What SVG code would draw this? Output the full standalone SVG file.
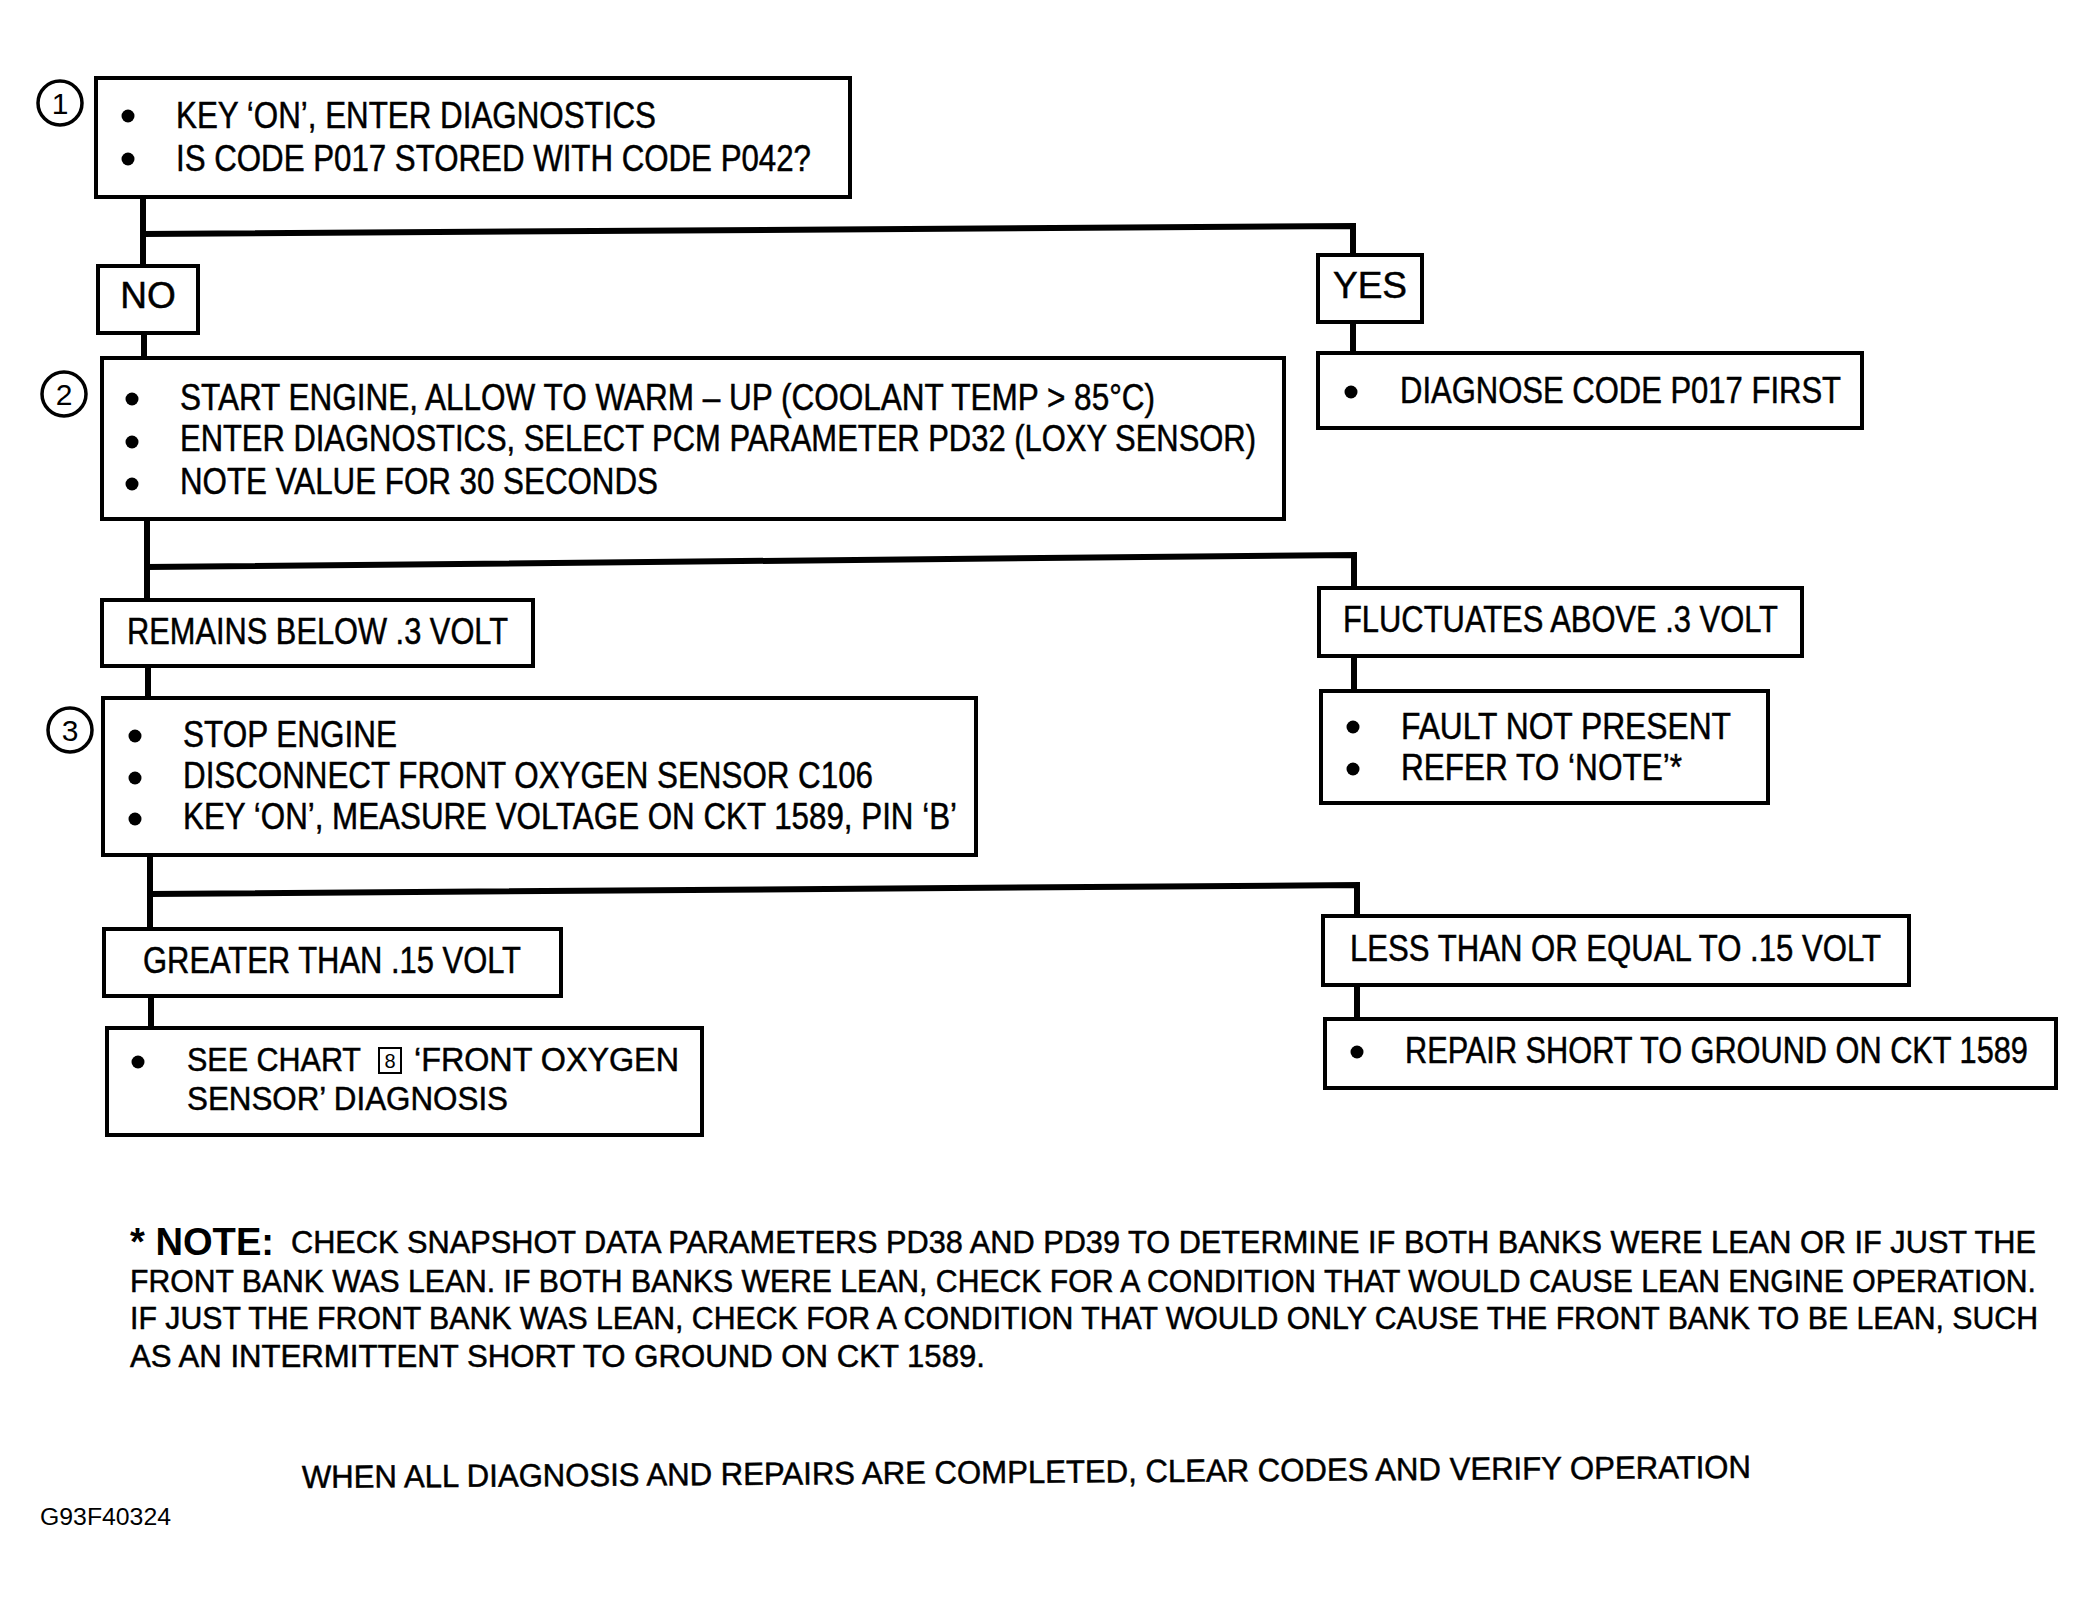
<svg xmlns="http://www.w3.org/2000/svg" width="2096" height="1600" viewBox="0 0 2096 1600">
<style>
.box{fill:#fff;stroke:#000;stroke-width:4}
.conn{stroke:#000;stroke-width:6;fill:none}
.t{font-family:"Liberation Sans",Arial,sans-serif;font-size:37px;fill:#000;stroke:#000;stroke-width:0.5}
.n{font-family:"Liberation Sans",Arial,sans-serif;font-size:31px;fill:#000;stroke:#000;stroke-width:0.5}
.step{fill:#fff;stroke:#000;stroke-width:3.5}
.stxt{font-family:"Liberation Sans",Arial,sans-serif;font-size:30px;text-anchor:middle;fill:#000}
.b{fill:#000}
</style>
<rect width="2096" height="1600" fill="#fff"/>
<g id="connectors">
<path class="conn" d="M143,197 V266"/>
<path class="conn" d="M143,234 L1353,226 V255"/>
<path class="conn" d="M144,333 V358"/>
<path class="conn" d="M1353,322 V353"/>
<path class="conn" d="M147,519 V600"/>
<path class="conn" d="M147,567 L1354,555 V588"/>
<path class="conn" d="M148,666 V698"/>
<path class="conn" d="M1354,656 V691"/>
<path class="conn" d="M150,855 V929"/>
<path class="conn" d="M150,894 L1357,885 V916"/>
<path class="conn" d="M151,996 V1028"/>
<path class="conn" d="M1357,985 V1019"/>
</g>
<g id="node1">
<circle class="step" cx="60" cy="103" r="22"/><text class="stxt" x="60" y="114">1</text>
<rect class="box" x="96" y="78" width="754" height="119"/>
<circle class="b" cx="128" cy="116" r="6.5"/><circle class="b" cx="128" cy="159" r="6.5"/>
<text class="t" x="176" y="128" textLength="480" lengthAdjust="spacingAndGlyphs">KEY ‘ON’, ENTER DIAGNOSTICS</text>
<text class="t" x="176" y="171" textLength="635" lengthAdjust="spacingAndGlyphs">IS CODE P017 STORED WITH CODE P042?</text>
</g>
<g id="no">
<rect class="box" x="98" y="266" width="100" height="67"/>
<text class="t" x="148" y="308" text-anchor="middle">NO</text>
</g>
<g id="yes">
<rect class="box" x="1318" y="255" width="104" height="67"/>
<text class="t" x="1370" y="298" text-anchor="middle">YES</text>
</g>
<g id="diagnose">
<rect class="box" x="1318" y="353" width="544" height="75"/>
<circle class="b" cx="1351" cy="392" r="6.5"/>
<text class="t" x="1400" y="403" textLength="441" lengthAdjust="spacingAndGlyphs">DIAGNOSE CODE P017 FIRST</text>
</g>
<g id="node2">
<circle class="step" cx="64" cy="394" r="22"/><text class="stxt" x="64" y="405">2</text>
<rect class="box" x="102" y="358" width="1182" height="161"/>
<circle class="b" cx="132" cy="399" r="6.5"/><circle class="b" cx="132" cy="442" r="6.5"/><circle class="b" cx="132" cy="484" r="6.5"/>
<text class="t" x="180" y="410" textLength="975" lengthAdjust="spacingAndGlyphs">START ENGINE, ALLOW TO WARM – UP (COOLANT TEMP &gt; 85°C)</text>
<text class="t" x="180" y="451" textLength="1076" lengthAdjust="spacingAndGlyphs">ENTER DIAGNOSTICS, SELECT PCM PARAMETER PD32 (LOXY SENSOR)</text>
<text class="t" x="180" y="494" textLength="478" lengthAdjust="spacingAndGlyphs">NOTE VALUE FOR 30 SECONDS</text>
</g>
<g id="remains">
<rect class="box" x="102" y="600" width="431" height="66"/>
<text class="t" x="127" y="644" textLength="381" lengthAdjust="spacingAndGlyphs">REMAINS BELOW .3 VOLT</text>
</g>
<g id="fluctuates">
<rect class="box" x="1319" y="588" width="483" height="68"/>
<text class="t" x="1343" y="632" textLength="435" lengthAdjust="spacingAndGlyphs">FLUCTUATES ABOVE .3 VOLT</text>
</g>
<g id="fault">
<rect class="box" x="1321" y="691" width="447" height="112"/>
<circle class="b" cx="1353" cy="727" r="6.5"/><circle class="b" cx="1353" cy="769" r="6.5"/>
<text class="t" x="1401" y="739" textLength="330" lengthAdjust="spacingAndGlyphs">FAULT NOT  PRESENT</text>
<text class="t" x="1401" y="780" textLength="281" lengthAdjust="spacingAndGlyphs">REFER TO ‘NOTE’*</text>
</g>
<g id="node3">
<circle class="step" cx="70" cy="730" r="22"/><text class="stxt" x="70" y="741">3</text>
<rect class="box" x="103" y="698" width="873" height="157"/>
<circle class="b" cx="135" cy="736" r="6.5"/><circle class="b" cx="135" cy="778" r="6.5"/><circle class="b" cx="135" cy="819" r="6.5"/>
<text class="t" x="183" y="747" textLength="214" lengthAdjust="spacingAndGlyphs">STOP ENGINE</text>
<text class="t" x="183" y="788" textLength="690" lengthAdjust="spacingAndGlyphs">DISCONNECT FRONT OXYGEN SENSOR C106</text>
<text class="t" x="183" y="829" textLength="774" lengthAdjust="spacingAndGlyphs">KEY ‘ON’, MEASURE VOLTAGE ON CKT 1589, PIN ‘B’</text>
</g>
<g id="greater">
<rect class="box" x="104" y="929" width="457" height="67"/>
<text class="t" x="143" y="973" textLength="378" lengthAdjust="spacingAndGlyphs">GREATER THAN .15 VOLT</text>
</g>
<g id="chart">
<rect class="box" x="107" y="1028" width="595" height="107"/>
<circle class="b" cx="138" cy="1062" r="6.5"/>
<text class="t" x="187" y="1071" style="font-size:34px" textLength="174" lengthAdjust="spacingAndGlyphs">SEE CHART</text>
<rect x="379" y="1048" width="22" height="25" fill="none" stroke="#000" stroke-width="2"/>
<text x="390" y="1068" text-anchor="middle" style="font-family:'Liberation Sans',Arial,sans-serif;font-size:20px">8</text>
<text class="t" x="414" y="1071" style="font-size:34px" textLength="265" lengthAdjust="spacingAndGlyphs">‘FRONT  OXYGEN</text>
<text class="t" x="187" y="1110" style="font-size:34px" textLength="321" lengthAdjust="spacingAndGlyphs">SENSOR’ DIAGNOSIS</text>
</g>
<g id="less">
<rect class="box" x="1323" y="916" width="586" height="69"/>
<text class="t" x="1350" y="961" textLength="531" lengthAdjust="spacingAndGlyphs">LESS THAN OR EQUAL TO .15 VOLT</text>
</g>
<g id="repair">
<rect class="box" x="1325" y="1019" width="731" height="69"/>
<circle class="b" cx="1357" cy="1052" r="6.5"/>
<g transform="translate(1405 1063) scale(0.83 1)">
<text class="t" x="0" y="0">REPAIR SHORT TO GROUND ON CKT 1589</text>
</g>
</g>
<g id="note">
<text x="130" y="1255" style="font-family:'Liberation Sans',Arial,sans-serif;font-weight:bold;font-size:38px" textLength="144" lengthAdjust="spacingAndGlyphs">* NOTE:</text>
<text class="n" x="291" y="1253" textLength="1745" lengthAdjust="spacingAndGlyphs">CHECK SNAPSHOT DATA PARAMETERS PD38 AND PD39 TO DETERMINE IF BOTH BANKS WERE LEAN OR IF JUST THE</text>
<text class="n" x="130" y="1292" textLength="1906" lengthAdjust="spacingAndGlyphs">FRONT BANK WAS LEAN. IF BOTH BANKS WERE LEAN, CHECK FOR A CONDITION THAT WOULD CAUSE LEAN ENGINE OPERATION.</text>
<text class="n" x="130" y="1329" textLength="1908" lengthAdjust="spacingAndGlyphs">IF JUST THE FRONT BANK WAS LEAN, CHECK FOR A CONDITION THAT WOULD ONLY CAUSE THE FRONT BANK TO BE LEAN, SUCH</text>
<text class="n" x="130" y="1367" textLength="855" lengthAdjust="spacingAndGlyphs">AS AN INTERMITTENT SHORT TO GROUND ON CKT 1589.</text>
</g>
<g id="footer">
<text class="n" x="302" y="1488" style="font-size:32px" transform="rotate(-0.4 302 1488)" textLength="1449" lengthAdjust="spacingAndGlyphs">WHEN ALL DIAGNOSIS AND REPAIRS ARE COMPLETED, CLEAR CODES AND VERIFY OPERATION</text>
<text x="40" y="1525" style="font-family:'Liberation Sans',Arial,sans-serif;font-size:23px" textLength="131" lengthAdjust="spacingAndGlyphs">G93F40324</text>
</g>
</svg>
